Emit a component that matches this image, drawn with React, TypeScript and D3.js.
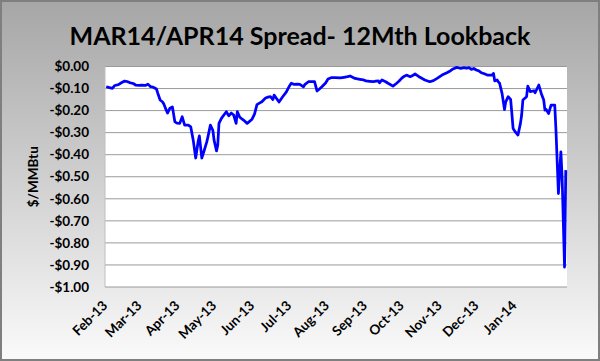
import React from "react";
import * as d3 from "d3";

const TITLE = "MAR14/APR14 Spread- 12Mth Lookback";
const Y_TITLE = "$/MMBtu";

const dates: string[] = [
  "2013-02-02","2013-02-04","2013-02-07","2013-02-09","2013-02-12","2013-02-14","2013-02-17","2013-02-19","2013-02-21","2013-02-24",
  "2013-02-26","2013-03-01","2013-03-03","2013-03-06","2013-03-08","2013-03-10","2013-03-12","2013-03-15","2013-03-16","2013-03-18",
  "2013-03-20","2013-03-21","2013-03-23","2013-03-24","2013-03-26","2013-03-28","2013-03-30","2013-04-01","2013-04-03","2013-04-05",
  "2013-04-07","2013-04-10","2013-04-12","2013-04-14","2013-04-16","2013-04-18","2013-04-19","2013-04-21","2013-04-23","2013-04-25",
  "2013-04-26","2013-04-28","2013-04-30","2013-05-01","2013-05-03","2013-05-04","2013-05-05","2013-05-07","2013-05-09","2013-05-11",
  "2013-05-13","2013-05-15","2013-05-17","2013-05-19","2013-05-20","2013-05-22","2013-05-25","2013-05-28","2013-06-01","2013-06-03",
  "2013-06-05","2013-06-07","2013-06-09","2013-06-12","2013-06-14","2013-06-16","2013-06-18","2013-06-19","2013-06-21","2013-06-23",
  "2013-06-26","2013-06-29","2013-07-01","2013-07-03","2013-07-05","2013-07-08","2013-07-10","2013-07-13","2013-07-14","2013-07-17",
  "2013-07-19","2013-07-22","2013-07-24","2013-07-26","2013-07-28","2013-07-31","2013-08-02","2013-08-05","2013-08-08","2013-08-12",
  "2013-08-15","2013-08-18","2013-08-20","2013-08-24","2013-08-28","2013-08-31","2013-09-02","2013-09-05","2013-09-08","2013-09-10",
  "2013-09-12","2013-09-13","2013-09-15","2013-09-18","2013-09-20","2013-09-24","2013-09-27","2013-09-29","2013-10-01","2013-10-03",
  "2013-10-05","2013-10-08","2013-10-10","2013-10-12","2013-10-14","2013-10-16","2013-10-20","2013-10-24","2013-10-27","2013-10-30",
  "2013-11-03","2013-11-07","2013-11-10","2013-11-12","2013-11-15","2013-11-17","2013-11-19","2013-11-21","2013-11-23","2013-11-25",
  "2013-11-27","2013-11-29","2013-12-01","2013-12-03","2013-12-05","2013-12-07","2013-12-10","2013-12-11","2013-12-14","2013-12-15",
  "2013-12-16","2013-12-18","2013-12-19","2013-12-20","2013-12-22","2013-12-24","2013-12-25","2013-12-27","2013-12-29","2013-12-30",
  "2013-12-31","2014-01-02","2014-01-04","2014-01-06","2014-01-07","2014-01-08","2014-01-11","2014-01-12","2014-01-14","2014-01-17",
  "2014-01-18","2014-01-21","2014-01-23","2014-01-25","2014-01-26","2014-01-27","2014-01-29","2014-01-31","2014-02-03","2014-02-04",
  "2014-02-06","2014-02-08","2014-02-09","2014-02-11","2014-02-12"
];

const spread: number[] = [
  -0.092,-0.095,-0.099,-0.086,-0.082,-0.075,-0.066,-0.068,-0.073,-0.077,
  -0.084,-0.086,-0.084,-0.086,-0.080,-0.091,-0.093,-0.102,-0.120,-0.152,
  -0.161,-0.170,-0.198,-0.211,-0.189,-0.183,-0.251,-0.257,-0.258,-0.228,
  -0.266,-0.266,-0.274,-0.334,-0.415,-0.340,-0.315,-0.415,-0.380,-0.343,
  -0.319,-0.266,-0.289,-0.334,-0.383,-0.357,-0.258,-0.235,-0.220,-0.205,
  -0.224,-0.211,-0.220,-0.258,-0.205,-0.230,-0.243,-0.258,-0.239,-0.216,
  -0.173,-0.166,-0.160,-0.143,-0.139,-0.137,-0.150,-0.130,-0.145,-0.161,
  -0.137,-0.115,-0.093,-0.076,-0.081,-0.080,-0.081,-0.092,-0.082,-0.069,
  -0.069,-0.069,-0.111,-0.102,-0.092,-0.075,-0.057,-0.050,-0.050,-0.052,
  -0.049,-0.046,-0.043,-0.054,-0.058,-0.061,-0.065,-0.067,-0.069,-0.066,
  -0.065,-0.074,-0.061,-0.069,-0.076,-0.089,-0.076,-0.066,-0.054,-0.045,
  -0.039,-0.046,-0.041,-0.034,-0.041,-0.049,-0.061,-0.069,-0.064,-0.054,
  -0.039,-0.028,-0.019,-0.011,-0.004,-0.007,-0.008,-0.005,-0.008,-0.005,
  -0.013,-0.009,-0.016,-0.020,-0.028,-0.032,-0.039,-0.039,-0.039,-0.031,
  -0.065,-0.061,-0.070,-0.076,-0.122,-0.195,-0.160,-0.137,-0.149,-0.213,
  -0.281,-0.298,-0.311,-0.258,-0.220,-0.152,-0.137,-0.089,-0.114,-0.110,
  -0.119,-0.084,-0.122,-0.152,-0.198,-0.195,-0.213,-0.175,-0.175,-0.289,
  -0.576,-0.387,-0.500,-0.910,-0.470
];

const yTicks: number[] = [0, -0.1, -0.2, -0.3, -0.4, -0.5, -0.6, -0.7, -0.8, -0.9, -1.0];
const xTickLabels: string[] = ["Feb-13","Mar-13","Apr-13","May-13","Jun-13","Jul-13","Aug-13","Sep-13","Oct-13","Nov-13","Dec-13","Jan-14"];

const W = 600, H = 361;
const M = { left: 105, right: 567, top: 66.5, bottom: 287 };
const FONT = "Lato, 'Open Sans', sans-serif";

export default function App() {
  const parse = d3.timeParse("%Y-%m-%d");
  const pts = dates.map((d, i) => ({ date: parse(d) as Date, v: spread[i] }));
  const x = d3.scaleTime()
    .domain([new Date(2013, 1, 1), new Date(2014, 1, 13)])
    .range([M.left, M.right]);
  const y = d3.scaleLinear().domain([-1, 0]).range([M.bottom, M.top]);
  const line = d3.line<{ date: Date; v: number }>()
    .x(d => x(d.date))
    .y(d => y(d.v));
  const monthTicks = d3.timeMonth.range(new Date(2013, 1, 1), new Date(2014, 0, 2));
  const fmt = (v: number) => (v < 0 ? "-" : "") + "$" + Math.abs(v).toFixed(2);

  return (
    <div style={{ position: "absolute", left: 0, top: 0 }}>
      <svg width={W} height={H} style={{ display: "block" }}>
        <defs>
          <linearGradient id="bg" x1="0" y1="0" x2="0" y2="1">
            <stop offset="0" stopColor="#a6a6a6" />
            <stop offset="1" stopColor="#fafafa" />
          </linearGradient>
        </defs>
        <rect x={1} y={1} width={W - 2} height={H - 2} fill="url(#bg)" stroke="#7f7f7f" strokeWidth={2} />
        <text x={300} y={45} textAnchor="middle" fontFamily={FONT} fontWeight={700} fontSize={25} fill="#000">
          {TITLE}
        </text>
        <rect x={M.left} y={M.top} width={M.right - M.left} height={M.bottom - M.top} fill="#fff" />
        {yTicks.map((t, i) => (
          <line key={"g" + i} x1={M.left} x2={M.right} y1={y(t)} y2={y(t)} stroke="#9a9a9a" strokeWidth={1} />
        ))}
        <line x1={M.left} x2={M.left} y1={M.top} y2={M.bottom} stroke="#bfbfbf" strokeWidth={1} />
        {yTicks.map((t, i) => (
          <text key={"yl" + i} x={89} y={y(t)} dy="0.35em" textAnchor="end" fontFamily={FONT} fontWeight={700} fontSize={13.5} fill="#000">
            {fmt(t)}
          </text>
        ))}
        <text transform={`translate(33,${(M.top + M.bottom) / 2}) rotate(-90)`} textAnchor="middle" dy="0.35em"
          fontFamily={FONT} fontWeight={700} fontSize={13.5} fill="#000">
          {Y_TITLE}
        </text>
        {monthTicks.map((d, i) => (
          <text key={"xl" + i} transform={`translate(${x(d)},303) rotate(-45)`} textAnchor="end" dy="0.35em"
            fontFamily={FONT} fontWeight={700} fontSize={13.5} fill="#000">
            {xTickLabels[i]}
          </text>
        ))}
        <path d={line(pts) || ""} fill="none" stroke="#0000ff" strokeWidth={2.75} strokeLinejoin="round" />
      </svg>
    </div>
  );
}
